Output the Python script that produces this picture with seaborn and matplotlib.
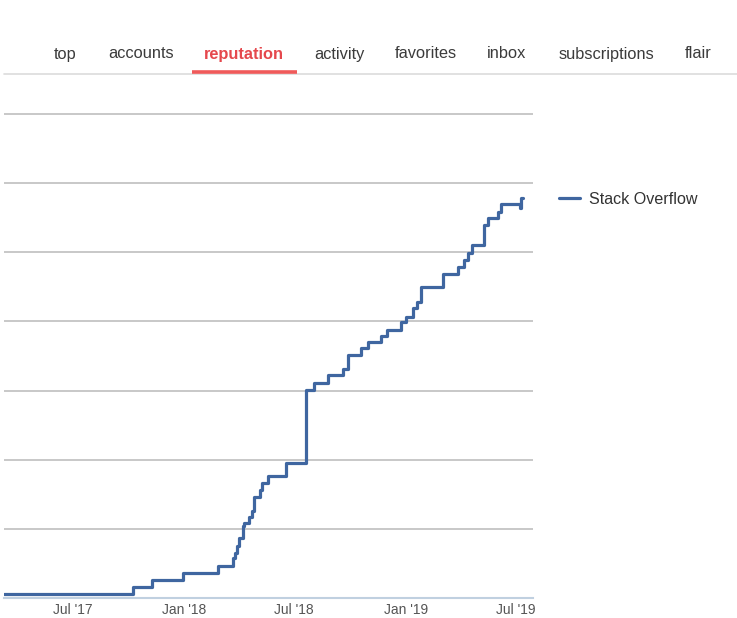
import matplotlib
matplotlib.use("Agg")
import matplotlib.pyplot as plt
from matplotlib.lines import Line2D
import seaborn as sns
import pandas as pd

# ---- data ----
step_dates = [
    "2017-03-10", "2017-10-09", "2017-11-09", "2017-12-30", "2018-02-26",
    "2018-03-22", "2018-03-25", "2018-03-29", "2018-04-02", "2018-04-08",
    "2018-04-10", "2018-04-18", "2018-04-23", "2018-04-26", "2018-05-06",
    "2018-05-10", "2018-05-19", "2018-06-18", "2018-07-21", "2018-08-03",
    "2018-08-26", "2018-09-19", "2018-09-28", "2018-10-20", "2018-10-31",
    "2018-11-22", "2018-12-01", "2018-12-25", "2019-01-02", "2019-01-14",
    "2019-01-19", "2019-01-26", "2019-03-03", "2019-03-29", "2019-04-07",
    "2019-04-14", "2019-04-20", "2019-05-11", "2019-05-17", "2019-06-02",
    "2019-06-08", "2019-07-08", "2019-07-11", "2019-07-13",
]
reputation = [
    51, 159, 260, 366, 463,
    579, 651, 752, 868, 1041,
    1085, 1172, 1258, 1461, 1562,
    1663, 1765, 1953, 3008, 3114,
    3225, 3308, 3515, 3612, 3698,
    3789, 3883, 3992, 4068, 4190,
    4285, 4494, 4686, 4783, 4889,
    4994, 5106, 5395, 5492, 5587,
    5699, 5641, 5781, 5781,
]
series_name = "Stack Overflow"
tick_dates = ["2017-07-01", "2018-01-01", "2018-07-01", "2019-01-01", "2019-07-01"]
tick_labels = ["Jul '17", "Jan '18", "Jul '18", "Jan '19", "Jul '19"]
grid_values = [1000, 2000, 3000, 4000, 5000, 6000, 7000]
nav_items = ["top", "accounts", "reputation", "activity", "favorites", "inbox", "subscriptions", "flair"]
nav_x = [65, 141, 244, 339, 426, 507, 606, 698]
active_nav = "reputation"

df = pd.DataFrame({"date": pd.to_datetime(step_dates), "rep": reputation, "site": series_name})

sns.set_style("white")
plt.rcParams["font.family"] = ["Liberation Sans", "DejaVu Sans"]

W, H = 737, 618
fig = plt.figure(figsize=(W / 100, H / 100), dpi=100, facecolor="white")
ax = fig.add_axes([4 / W, 20 / H, 529 / W, 520 / H])
ax.set_facecolor("white")

line_color = "#3f66a0"
sns.lineplot(data=df, x="date", y="rep", ax=ax, color=line_color, linewidth=2.3,
             drawstyle="steps-post", label=series_name, legend=False, zorder=3)

ax.set_xlim(pd.Timestamp("2017-03-10"), pd.Timestamp("2019-07-30"))
ax.set_ylim(0, 7521)
ax.set_yticks(grid_values)
ax.yaxis.grid(True, color="#c4c4c4", linewidth=1.3)
ax.xaxis.grid(False)
ax.tick_params(axis="y", left=False, labelleft=False)

ax.set_xticks(pd.to_datetime(tick_dates))
ax.set_xticklabels(tick_labels)
ax.tick_params(axis="x", length=3, width=1, color="#c0d0e0", labelsize=10,
               labelcolor="#555555", pad=0.5)
for s in ["top", "right", "left"]:
    ax.spines[s].set_visible(False)
ax.spines["bottom"].set_color("#c0d0e0")
ax.spines["bottom"].set_linewidth(1.5)
ax.set_xlabel("")
ax.set_ylabel("")

# legend outside on the right
handles = [Line2D([], [], color=line_color, linewidth=2.3)]
leg = ax.legend(handles, [series_name], loc="center left",
                bbox_to_anchor=(559 / W, 1 - 199 / H), bbox_transform=fig.transFigure,
                frameon=False, fontsize=11.6, handlelength=1.3, handletextpad=0.55,
                borderpad=0, borderaxespad=0)
for t in leg.get_texts():
    t.set_color("#333333")

# navigation bar
for name, xp in zip(nav_items, nav_x):
    if name == active_nav:
        fig.text(xp / W, 1 - 55 / H, name, ha="center", va="center", fontsize=11.8,
                 color="#e5484d", fontweight="bold")
    else:
        fig.text(xp / W, 1 - 54 / H, name, ha="center", va="center", fontsize=11.8,
                 color="#3b3b3b")
fig.add_artist(Line2D([4 / W, 1.0], [1 - 73.5 / H, 1 - 73.5 / H], transform=fig.transFigure,
                      color="#dcdcdc", linewidth=1.2))
fig.add_artist(Line2D([192 / W, 297 / W], [1 - 72 / H, 1 - 72 / H], transform=fig.transFigure,
                      color="#f05a5a", linewidth=2.6, solid_capstyle="butt"))

fig.savefig("out.png", dpi=100, facecolor="white")
